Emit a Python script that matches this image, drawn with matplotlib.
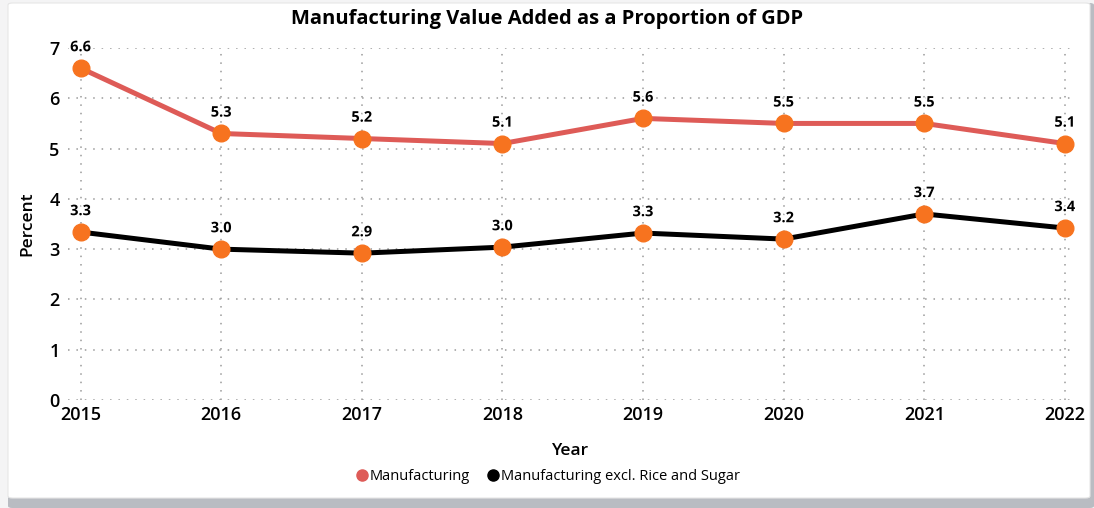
import matplotlib.pyplot as plt
from matplotlib.patches import FancyBboxPatch
from matplotlib.lines import Line2D
import matplotlib.patheffects as pe

plt.rcParams['font.family'] = ['Open Sans', 'DejaVu Sans']

years = [2015, 2016, 2017, 2018, 2019, 2020, 2021, 2022]
manufacturing = [6.6, 5.3, 5.2, 5.1, 5.6, 5.5, 5.5, 5.1]
excl_rice_sugar = [3.34, 3.0, 2.92, 3.04, 3.32, 3.2, 3.7, 3.42]

red = '#DE5B57'
orange = '#F7731F'

fig = plt.figure(figsize=(10.94, 5.08), dpi=100)
fig.patch.set_facecolor('#F4F4F5')

# card with drop shadow
shadow = FancyBboxPatch((8 / 1094, 0), 1086 / 1094, 505 / 508,
                        boxstyle='round,pad=0,rounding_size=0.004',
                        transform=fig.transFigure, facecolor='#B9BCC2',
                        edgecolor='none', zorder=-2)
card = FancyBboxPatch((8 / 1094, 10 / 508), 1082 / 1094, 495 / 508,
                      boxstyle='round,pad=0,rounding_size=0.004',
                      transform=fig.transFigure, facecolor='white',
                      edgecolor='#E6E6E6', linewidth=0.8, zorder=-1)
fig.patches.extend([shadow, card])

ax = fig.add_axes([68 / 1094, 108 / 508, 1006 / 1094, 352 / 508])
ax.set_facecolor('none')
ax.set_zorder(2)

ax.plot(years, manufacturing, color=red, lw=3.6, marker='o', ms=12,
        mfc=orange, mec=orange, zorder=3, solid_capstyle='round')
ax.plot(years, excl_rice_sugar, color='black', lw=3.6, marker='o', ms=12,
        mfc=orange, mec=orange, zorder=3, solid_capstyle='round')

halo = [pe.withStroke(linewidth=3, foreground='white')]
for series in (manufacturing, excl_rice_sugar):
    for x, v in zip(years, series):
        ax.annotate(f'{v:.1f}', (x, v), xytext=(0, 10), textcoords='offset points',
                    ha='center', va='bottom', fontsize=10.5, fontweight='bold',
                    color='black', path_effects=halo, zorder=4)

ax.set_xlim(2014.91, 2022.065)
ax.set_ylim(0, 7)
ax.set_xticks(years)
ax.set_yticks(range(0, 8))
ax.grid(True, color='#9A9A9A', linestyle=(0, (1, 4.5)), linewidth=1.1)
for s in ax.spines.values():
    s.set_visible(False)
ax.tick_params(length=0, labelsize=13, pad=4)
ax.tick_params(axis='y', pad=6)
for lbl in ax.get_xticklabels() + ax.get_yticklabels():
    lbl.set_fontweight('semibold')

ax.set_xlabel('Year', fontsize=12.5, fontweight='semibold', labelpad=14)
ax.set_ylabel('Percent', fontsize=12.5, fontweight='semibold', labelpad=10)

fig.text(0.5, 1 - 19 / 508, 'Manufacturing Value Added as a Proportion of GDP',
         ha='center', va='center', fontsize=14.5, fontweight='bold')

handles = [Line2D([], [], ls='none', marker='o', ms=8, color=red),
           Line2D([], [], ls='none', marker='o', ms=8, color='black')]
fig.legend(handles, ['Manufacturing', 'Manufacturing excl. Rice and Sugar'],
           loc='center', bbox_to_anchor=(0.5, 1 - 477 / 508), ncol=2,
           frameon=False, fontsize=10.5, handletextpad=0.0,
           columnspacing=1.0, handlelength=1.1)

fig.savefig('out.png', dpi=100, facecolor=fig.get_facecolor())
